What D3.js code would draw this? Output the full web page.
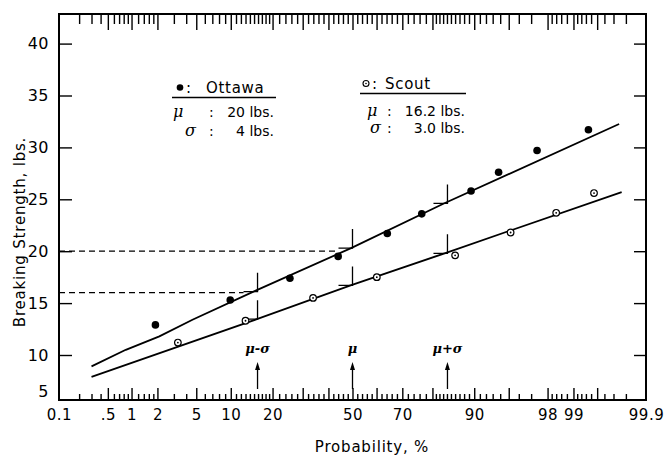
<!DOCTYPE html>
<html>
<head>
<meta charset="utf-8">
<script src="https://cdn.jsdelivr.net/npm/d3@7"></script>
<style>
  body { margin: 0; background: #fff; }
  text { font-family: "DejaVu Sans", sans-serif; fill: #000; }
  .greek { font-family: "DejaVu Serif", serif; font-style: italic; }
</style>
</head>
<body>
<svg id="chart" width="664" height="458"></svg>
<script>
// Data
const ottawaProb = [1.9, 9.9, 25.5, 44, 64.3, 76.7, 89.4, 93.8, 97.4, 99.35];
const ottawaLbs = [12.9, 15.3, 17.4, 19.5, 21.7, 23.6, 25.8, 27.6, 29.7, 31.7];
const scoutProb = [3.3, 13.0, 33.9, 60.1, 86.0, 95.2, 98.4, 99.45];
const scoutLbs = [11.2, 13.3, 15.5, 17.5, 19.6, 21.8, 23.7, 25.6];

// Hand-fitted lines
const ottawaLineProb = [0.3, 0.85, 2.1, 4.6, 15.4, 49.4, 83.2, 99.75];
const ottawaLineLbs = [8.9, 10.5, 11.8, 13.4, 16.2, 20.3, 24.6, 32.25];
const scoutLineProb = [0.3, 15.7, 49.2, 83.4, 99.77];
const scoutLineLbs = [7.9, 13.45, 16.7, 19.8, 25.7];

// mu-sigma, mu, mu+sigma marks on each line
const markProb = [15.87, 50, 84.13];
const markLabels = ["\u03bc-\u03c3", "\u03bc", "\u03bc+\u03c3"];
const ottawaMarks = [16.1, 20.3, 24.6];
const scoutMarks = [13.45, 16.7, 19.8];
const refLevels = [16, 20];
const refProb = [15.87, 50];

// Legend
const seriesNames = ["Ottawa", "Scout"];
const meanText = ["20 lbs.", "16.2 lbs."];
const sigmaText = ["4 lbs.", "3.0 lbs."];

// Axis ticks
const xLabelProb = [0.1, 0.5, 1, 2, 5, 10, 20, 50, 70, 90, 98, 99, 99.9];
const xLabels = ["0.1", ".5", "1", "2", "5", "10", "20", "50", "70", "90", "98", "99", "99.9"];
const xMajor = [0.5, 1, 2, 5, 10, 20, 30, 40, 50, 60, 70, 80, 90, 95, 98, 99, 99.5];
const xMinor = [0.2, 0.3, 0.4, 0.6, 0.7, 0.8, 0.9, 1.2, 1.4, 1.6, 1.8, 3, 4, 6, 7, 8, 9,
  11, 12, 13, 14, 15, 16, 17, 18, 19, 22, 24, 26, 28, 32, 34, 36, 38, 42, 44, 46, 48,
  52, 54, 56, 58, 62, 64, 66, 68, 72, 74, 76, 78, 81, 82, 83, 84, 85, 86, 87, 88, 89,
  91, 92, 93, 94, 96, 97, 98.2, 98.4, 98.6, 98.8, 99.1, 99.2, 99.3, 99.4, 99.6, 99.7, 99.8];
const yTicks = [5, 10, 15, 20, 25, 30, 35, 40];

// inverse normal cdf (Acklam)
function qnorm(p) {
  const a = [-39.69683028665376, 220.9460984245205, -275.9285104469687, 138.3577518672690, -30.66479806614716, 2.506628277459239];
  const b = [-54.47609879822406, 161.5858368580409, -155.6989798598866, 66.80131188771972, -13.28068155288572];
  const c = [-0.007784894002430293, -0.3223964580411365, -2.400758277161838, -2.549732539343734, 4.374664141464968, 2.938163982698783];
  const d = [0.007784695709041462, 0.3224671290700398, 2.445134137142996, 3.754408661907416];
  let q, r;
  if (p < 0.02425) {
    q = Math.sqrt(-2 * Math.log(p));
    return (((((c[0]*q+c[1])*q+c[2])*q+c[3])*q+c[4])*q+c[5]) / ((((d[0]*q+d[1])*q+d[2])*q+d[3])*q+1);
  }
  if (p > 1 - 0.02425) {
    q = Math.sqrt(-2 * Math.log(1 - p));
    return -(((((c[0]*q+c[1])*q+c[2])*q+c[3])*q+c[4])*q+c[5]) / ((((d[0]*q+d[1])*q+d[2])*q+d[3])*q+1);
  }
  q = p - 0.5; r = q * q;
  return (((((a[0]*r+a[1])*r+a[2])*r+a[3])*r+a[4])*r+a[5])*q / (((((b[0]*r+b[1])*r+b[2])*r+b[3])*r+b[4])*r+1);
}
const zq = p => qnorm(p / 100);

// plot box
const plotLeft = 59, plotRight = 646, plotTop = 14, plotBottom = 400;

const zScale = d3.scaleLinear().domain([-3.09, 3.09]).range([plotLeft, plotRight]);
const x = p => zScale(zq(p));
const y = d3.scaleLinear().domain([10, 40]).range([355, 43.6]);

const svg = d3.select("#chart");
svg.append("rect").attr("width", 664).attr("height", 458).attr("fill", "#fff");

// bottom axis: labels, major and minor ticks
function styleAxis(g) {
  g.select(".domain").remove();
  g.selectAll("line").attr("stroke", "#000").attr("stroke-width", 1.4);
  g.selectAll("text").style("font-size", "15px").style("letter-spacing", "0.5px");
}
svg.append("g")
  .attr("transform", `translate(0,${plotBottom})`)
  .call(d3.axisBottom(zScale).tickValues(xLabelProb.map(zq))
    .tickFormat((d, i) => xLabels[i]).tickSize(0).tickPadding(9))
  .call(styleAxis);
svg.append("g")
  .attr("transform", `translate(0,${plotBottom})`)
  .call(d3.axisBottom(zScale).tickValues(xMajor.map(zq)).tickFormat("").tickSize(-12))
  .call(styleAxis);
svg.append("g")
  .attr("transform", `translate(0,${plotBottom})`)
  .call(d3.axisBottom(zScale).tickValues(xMinor.map(zq)).tickFormat("").tickSize(-6))
  .call(styleAxis);

// top axis ticks (pointing down)
svg.append("g")
  .attr("transform", `translate(0,${plotTop})`)
  .call(d3.axisTop(zScale).tickValues(xMajor.map(zq)).tickFormat("").tickSize(-16))
  .call(styleAxis);
svg.append("g")
  .attr("transform", `translate(0,${plotTop})`)
  .call(d3.axisTop(zScale).tickValues(xMinor.map(zq)).tickFormat("").tickSize(-10))
  .call(styleAxis);

// left axis
const yAxis = svg.append("g")
  .attr("transform", `translate(${plotLeft},0)`)
  .call(d3.axisLeft(y).tickValues(yTicks).tickFormat(d3.format("d")).tickSize(-13).tickPadding(10))
  .call(styleAxis);
yAxis.selectAll(".tick").filter(d => d === 5)
  .attr("transform", `translate(0,${plotBottom - 8})`)
  .select("line").remove();
yAxis.selectAll("text").style("font-size", "16px");

// right axis ticks
svg.append("g")
  .attr("transform", `translate(${plotRight},0)`)
  .call(d3.axisRight(y).tickValues(yTicks.filter(d => d > 5)).tickFormat("").tickSize(-12))
  .call(styleAxis);

// frame
svg.append("rect")
  .attr("x", plotLeft).attr("y", plotTop)
  .attr("width", plotRight - plotLeft).attr("height", plotBottom - plotTop)
  .attr("fill", "none").attr("stroke", "#000").attr("stroke-width", 2);

// axis titles
svg.append("text")
  .attr("x", 372).attr("y", 452)
  .attr("text-anchor", "middle")
  .style("font-size", "15px").style("letter-spacing", "0.8px")
  .text("Probability,  %");
svg.append("text")
  .attr("transform", "translate(25,232) rotate(-90)")
  .attr("text-anchor", "middle")
  .style("font-size", "15px").style("letter-spacing", "0.8px")
  .text("Breaking  Strength, lbs.");

// dashed reference levels
svg.selectAll(".ref")
  .data(refLevels)
  .enter()
  .append("line")
  .attr("x1", plotLeft)
  .attr("x2", (d, i) => x(refProb[i]) - 14)
  .attr("y1", d => y(d))
  .attr("y2", d => y(d))
  .attr("stroke", "#000")
  .attr("stroke-width", 1.2)
  .attr("stroke-dasharray", "6,4");

// fitted lines
const line = d3.line().x(d => x(d[0])).y(d => y(d[1]));
svg.append("path")
  .attr("d", line(ottawaLineProb.map((p, i) => [p, ottawaLineLbs[i]])))
  .attr("fill", "none").attr("stroke", "#000").attr("stroke-width", 1.8);
svg.append("path")
  .attr("d", line(scoutLineProb.map((p, i) => [p, scoutLineLbs[i]])))
  .attr("fill", "none").attr("stroke", "#000").attr("stroke-width", 1.8);

// crosshair marks
[ottawaMarks, scoutMarks].forEach(marks => {
  marks.forEach((v, i) => {
    const px = x(markProb[i]), py = y(v);
    svg.append("path")
      .attr("d", `M${px - 14},${py}H${px}V${py - 19}`)
      .attr("fill", "none").attr("stroke", "#000").attr("stroke-width", 1.3);
  });
});

// points
svg.selectAll(".ottawa")
  .data(ottawaProb)
  .enter()
  .append("circle")
  .attr("cx", d => x(d))
  .attr("cy", (d, i) => y(ottawaLbs[i]))
  .attr("r", 3.8)
  .attr("fill", "#000");
const scout = svg.selectAll(".scout")
  .data(scoutProb)
  .enter()
  .append("g")
  .attr("transform", (d, i) => `translate(${x(d)},${y(scoutLbs[i])})`);
scout.append("circle").attr("r", 3.3).attr("fill", "#fff").attr("stroke", "#000").attr("stroke-width", 1.2);
scout.append("circle").attr("r", 0.9).attr("fill", "#000");

// mu / sigma arrows along the bottom
markProb.forEach((p, i) => {
  const px = x(p);
  svg.append("line")
    .attr("x1", px).attr("x2", px)
    .attr("y1", plotBottom - 11).attr("y2", plotBottom - 34)
    .attr("stroke", "#000").attr("stroke-width", 1.3);
  svg.append("path")
    .attr("d", `M${px},${plotBottom - 38}L${px - 2.5},${plotBottom - 30}L${px + 2.5},${plotBottom - 30}Z`)
    .attr("fill", "#000");
  svg.append("text")
    .attr("class", "greek")
    .attr("x", px).attr("y", plotBottom - 47)
    .attr("text-anchor", "middle")
    .style("font-size", "13px").style("font-weight", "bold")
    .text(markLabels[i]);
});

// legend
const legend = [
  { sx: 180, sy: 87.5, cx: 186, nx: 206, nb: 93, ux0: 172, ux1: 276, uy: 97.5,
    mx: 173, mb: 117, sgx: 185, sb: 136, colon: 209, vx: 274 },
  { sx: 366, sy: 83.5, cx: 372, nx: 385, nb: 89, ux0: 360, ux1: 466, uy: 93.5,
    mx: 367, mb: 115.5, sgx: 370, sb: 133, colon: 387, vx: 465 }
];
legend.forEach((L, i) => {
  if (i === 0) {
    svg.append("circle").attr("cx", L.sx).attr("cy", L.sy).attr("r", 3.3).attr("fill", "#000");
  } else {
    svg.append("circle").attr("cx", L.sx).attr("cy", L.sy).attr("r", 3).attr("fill", "#fff")
      .attr("stroke", "#000").attr("stroke-width", 1.1);
    svg.append("circle").attr("cx", L.sx).attr("cy", L.sy).attr("r", 0.8).attr("fill", "#000");
  }
  svg.append("text").attr("x", L.cx).attr("y", L.nb).style("font-size", "15px").text(":");
  svg.append("text").attr("x", L.nx).attr("y", L.nb)
    .style("font-size", "15px").style("letter-spacing", "0.7px").text(seriesNames[i]);
  svg.append("line").attr("x1", L.ux0).attr("x2", L.ux1).attr("y1", L.uy).attr("y2", L.uy)
    .attr("stroke", "#000").attr("stroke-width", 1.4);
  svg.append("text").attr("class", "greek").attr("x", L.mx).attr("y", L.mb)
    .style("font-size", "16px").text("\u03bc");
  svg.append("text").attr("x", L.colon).attr("y", L.mb).style("font-size", "14px").text(":");
  svg.append("text").attr("x", L.vx).attr("y", L.mb).attr("text-anchor", "end")
    .style("font-size", "14px").text(meanText[i]);
  svg.append("text").attr("class", "greek").attr("x", L.sgx).attr("y", L.sb)
    .style("font-size", "16px").text("\u03c3");
  svg.append("text").attr("x", L.colon).attr("y", L.sb).style("font-size", "14px").text(":");
  svg.append("text").attr("x", L.vx).attr("y", L.sb).attr("text-anchor", "end")
    .style("font-size", "14px").text(sigmaText[i]);
});
</script>
</body>
</html>
